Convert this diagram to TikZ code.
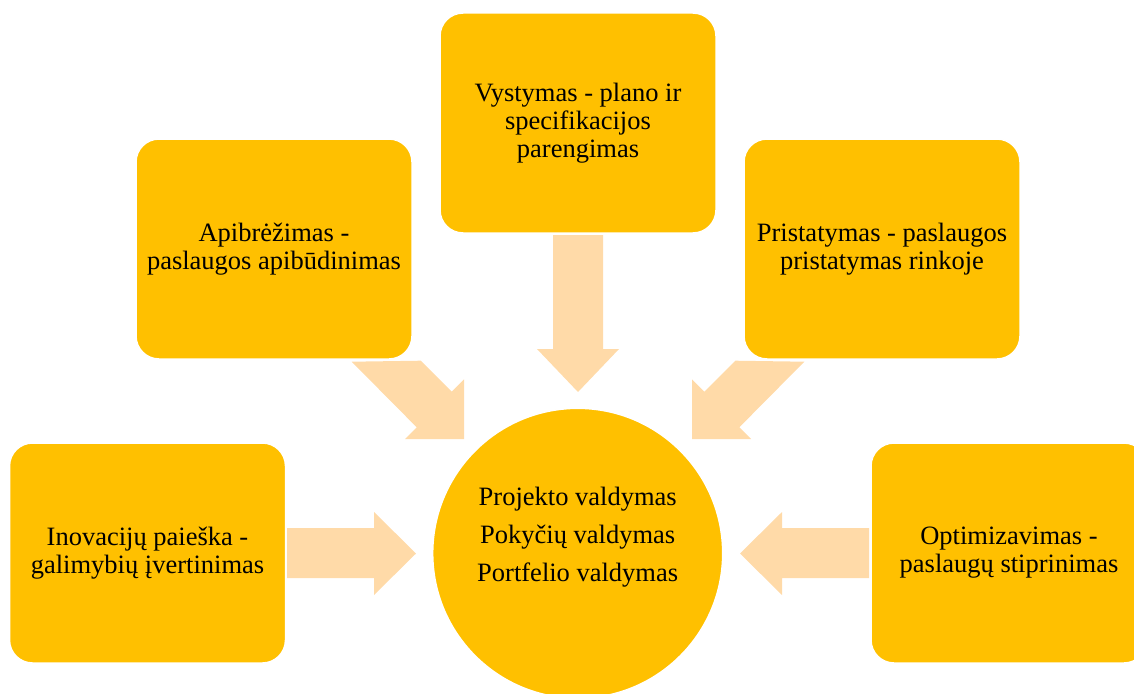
\documentclass[tikz,border=0pt]{standalone}
\usepackage{fontspec}
\setmainfont{Liberation Serif}
\definecolor{boxyellow}{RGB}{255,192,0}
\definecolor{arrowpeach}{RGB}{255,218,168}
\begin{document}
\begin{tikzpicture}[x=1pt,y=-1pt,
  stagebox/.style={rectangle, rounded corners=23pt, fill=boxyellow, draw=white,
    line width=1.5pt, minimum width=276pt, minimum height=220pt, inner sep=4pt,
    align=center, font=\fontsize{26.5}{28}\selectfont},
  corecircle/.style={circle, fill=boxyellow, draw=white, line width=1.5pt,
    minimum size=290pt, inner sep=0pt},
  coretext/.style={align=center, font=\fontsize{26.5}{38}\selectfont, inner sep=0pt},
  blockarrow/.style={fill=arrowpeach, draw=none}]
\useasboundingbox (0,0) rectangle (1134,693);
% block arrows (drawn first, boxes lie on top)
\fill[blockarrow] (351.7,361.7) -- (420.7,360.7) -- (451.7,391.7) -- (464,379.3)
  -- (464,439) -- (405,439) -- (416.7,427.3) -- cycle;
\fill[blockarrow] (804.3,361.7) -- (735.3,360.7) -- (704.3,391.7) -- (692,379.3)
  -- (692,439) -- (751,439) -- (739.3,427.3) -- cycle;
\fill[blockarrow] (553,235) -- (603,235) -- (603,349) -- (619,349) -- (578,392)
  -- (537,349) -- (553,349) -- cycle;
\fill[blockarrow] (287,528) -- (374,528) -- (374,512) -- (416,553.5) -- (374,595)
  -- (374,578) -- (287,578) -- cycle;
\fill[blockarrow] (869,528) -- (782,528) -- (782,512) -- (740,553.5) -- (782,595)
  -- (782,578) -- (869,578) -- cycle;
% boxes
\node[stagebox] (top) at (578,123) {Vystymas - plano ir\\specifikacijos\\parengimas};
\node[stagebox] (upleft) at (274,249) {Apibrėžimas -\\paslaugos apibūdinimas};
\node[stagebox] (upright) at (882,249) {Pristatymas - paslaugos\\pristatymas rinkoje};
\node[stagebox] (lowleft) at (147.5,553) {Inovacijų paieška -\\galimybių įvertinimas};
\node[stagebox] (lowright) at (1009,553) {Optimizavimas -\\paslaugų stiprinimas};
% centre
\node[corecircle] (core) at (577.7,553.3) {};
\node[coretext] (corelabel) at (577.7,537) {Projekto valdymas\\Pokyčių valdymas\\Portfelio valdymas};
\end{tikzpicture}
\end{document}
